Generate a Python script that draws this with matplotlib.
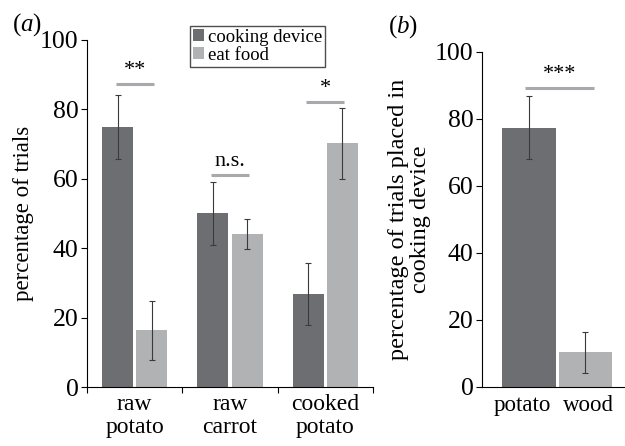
import matplotlib
matplotlib.use("Agg")
import matplotlib.pyplot as plt
import numpy as np

plt.rcParams["font.family"] = "Liberation Serif"
plt.rcParams["mathtext.fontset"] = "custom"
plt.rcParams["mathtext.rm"] = "Liberation Serif"
plt.rcParams["mathtext.it"] = "Liberation Serif:italic"

# panel (a) data
foods = ["raw\npotato", "raw\ncarrot", "cooked\npotato"]
cook_mean = [75, 50, 26.7]
cook_err = [9.2, 9.2, 8.9]
eat_mean = [16.3, 44.2, 70.2]
eat_err = [8.5, 4.3, 10.3]
sig_a = ["**", "n.s.", "*"]
sig_a_y = [87.4, 61.1, 82.2]

# panel (b) data
items = ["potato", "wood"]
placed_mean = [77.3, 10.3]
placed_err = [9.4, 6.1]
sig_b = "***"
sig_b_y = 89.1

DARK = "#6d6e71"
LIGHT = "#b1b2b4"
SIGC = "#a7a9ac"
ERRC = "#3a3a3a"

fig = plt.figure(figsize=(6.25, 4.46), dpi=100)
W, H = 625, 446

# panel (a)
ax = fig.add_axes([87 / W, 1 - 387 / H, (373 - 87) / W, (387 - 40) / H])
x = np.arange(len(foods))
off, bw = 0.18, 0.325
ax.bar(x - off, cook_mean, bw, color=DARK, label="cooking device")
ax.bar(x + off, eat_mean, bw, color=LIGHT, label="eat food")
ax.errorbar(x - off, cook_mean, yerr=cook_err, fmt="none", ecolor=ERRC,
            elinewidth=0.8, capsize=2, capthick=0.8)
ax.errorbar(x + off, eat_mean, yerr=eat_err, fmt="none", ecolor=ERRC,
            elinewidth=0.8, capsize=2, capthick=0.8)
for xi, s, ys in zip(x, sig_a, sig_a_y):
    ax.plot([xi - 0.2, xi + 0.2], [ys, ys], color=SIGC, lw=2.2, solid_capstyle="butt")
    ax.text(xi, ys + 1.2, s, ha="center", va="bottom", fontsize=16)
ax.set_xlim(-0.5, 2.5)
ax.set_ylim(0, 100)
ax.set_xticks(np.arange(-0.5, 3, 1))
ax.set_xticklabels([])
ax.set_xticks(x, minor=True)
ax.set_xticklabels(foods, minor=True, fontsize=17, linespacing=1.15)
ax.tick_params(axis="x", which="minor", length=0, pad=5)
ax.tick_params(axis="x", which="major", length=4, direction="out")
ax.set_yticks([0, 20, 40, 60, 80, 100])
ax.tick_params(axis="y", labelsize=18.5, length=4, pad=2)
ax.set_ylabel("percentage of trials", fontsize=16.5, labelpad=4)
for sp in ["top", "right"]:
    ax.spines[sp].set_visible(False)
leg = ax.legend(loc="upper left", bbox_to_anchor=(0.36, 1.04), fontsize=13.5,
                frameon=True, fancybox=False, handlelength=0.6, handleheight=0.6,
                handletextpad=0.2, borderpad=0.15, labelspacing=0.05,
                borderaxespad=0)
leg.get_frame().set_edgecolor("#222222")
leg.get_frame().set_linewidth(1.0)

# panel (b)
bx = fig.add_axes([482 / W, 1 - 386.7 / H, (625 - 482) / W, (386.7 - 51.7) / H])
xb = np.arange(len(items))
bx.bar(xb, placed_mean, 0.95, color=[DARK, LIGHT])
bx.errorbar(xb, placed_mean, yerr=placed_err, fmt="none", ecolor=ERRC,
            elinewidth=0.8, capsize=2, capthick=0.8)
bx.plot([-0.07, 1.16], [sig_b_y, sig_b_y], color=SIGC, lw=2.2, solid_capstyle="butt")
bx.text(0.55, sig_b_y + 1.2, sig_b, ha="center", va="bottom", fontsize=16)
bx.set_xlim(-0.84, 1.71)
bx.set_ylim(0, 100)
bx.set_xticks(xb + np.array([-0.12, 0.06]))
bx.set_xticklabels(items, fontsize=16.5)
bx.tick_params(axis="x", length=0, pad=6)
bx.set_yticks([0, 20, 40, 60, 80, 100])
bx.tick_params(axis="y", labelsize=18.5, length=4, pad=2)
bx.set_ylabel("percentage of trials placed in\ncooking device", fontsize=17.5,
              labelpad=3, linespacing=1.05)
for sp in ["top", "right"]:
    bx.spines[sp].set_visible(False)

fig.text(12 / W, 1 - 25 / H, r"($\mathit{a}$)", fontsize=18, va="center", ha="left")
fig.text(388 / W, 1 - 27 / H, r"($\mathit{b}$)", fontsize=18, va="center", ha="left")

fig.savefig("out.png", dpi=100)
